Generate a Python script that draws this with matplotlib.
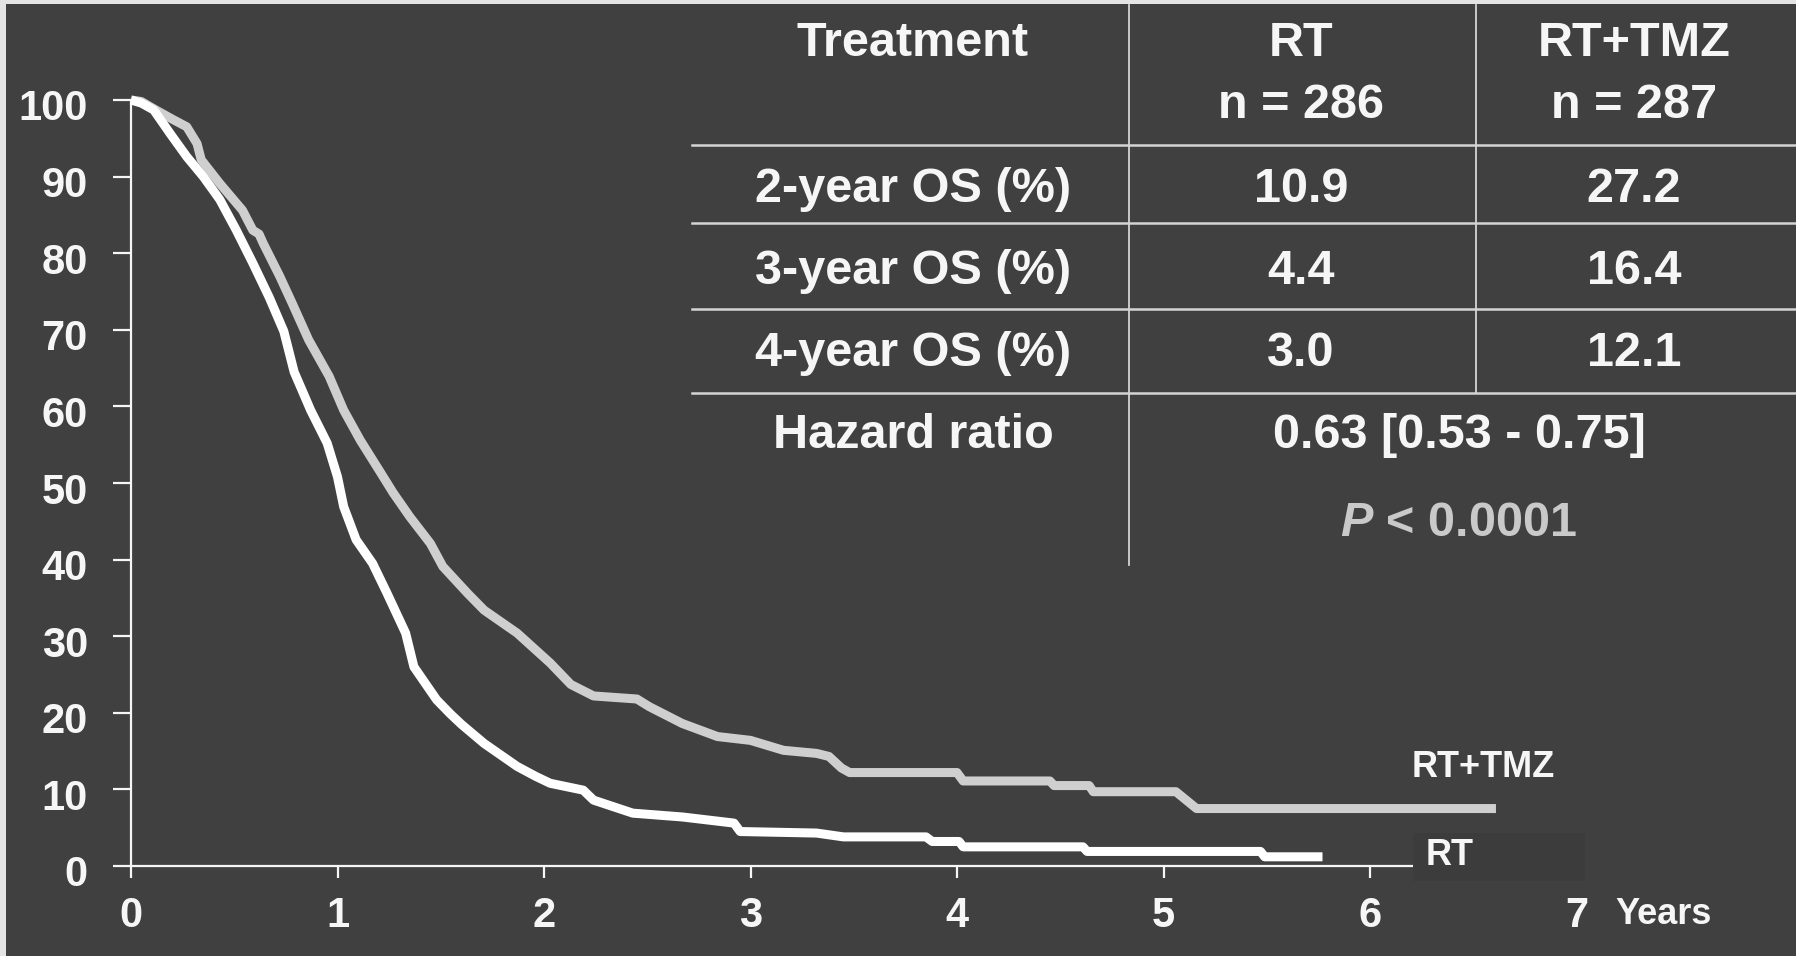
import matplotlib
matplotlib.use("Agg")
import matplotlib.pyplot as plt
from matplotlib.lines import Line2D
from matplotlib.patches import Rectangle
import matplotlib.transforms as mtransforms

# ---------------- data ----------------
tmz_years = [0.00, 0.05, 0.12, 0.20, 0.27, 0.32, 0.34, 0.43, 0.54, 0.59, 0.62, 0.64,
             0.72, 0.78, 0.86, 0.96, 1.03, 1.11, 1.21, 1.27, 1.35, 1.45, 1.51, 1.63,
             1.71, 1.87, 2.03, 2.13, 2.24, 2.45, 2.51, 2.67, 2.84, 3.00, 3.16, 3.32,
             3.38, 3.44, 3.48, 4.00, 4.03, 4.45, 4.47, 4.64, 4.66, 5.06, 5.16, 6.61]
tmz_os = [100.0, 99.8, 98.7, 97.5, 96.5, 94.3, 92.2, 89.1, 85.6, 83.0, 82.5, 81.3,
          77.0, 73.5, 68.7, 63.9, 59.5, 55.6, 51.3, 48.7, 45.6, 42.1, 39.1, 35.6,
          33.4, 30.4, 26.5, 23.7, 22.2, 21.8, 20.8, 18.6, 16.9, 16.4, 15.1, 14.7,
          14.3, 12.8, 12.2, 12.2, 11.1, 11.1, 10.5, 10.5, 9.7, 9.7, 7.5, 7.5]

rt_years = [0.00, 0.05, 0.11, 0.19, 0.27, 0.35, 0.43, 0.51, 0.59, 0.67, 0.74, 0.79,
            0.87, 0.95, 1.00, 1.03, 1.09, 1.17, 1.24, 1.33, 1.37, 1.48, 1.545, 1.60,
            1.71, 1.87, 1.96, 2.03, 2.19, 2.24, 2.43, 2.67, 2.92, 2.95, 3.32, 3.45,
            3.85, 3.88, 4.01, 4.03, 4.61, 4.63, 5.47, 5.49, 5.77]
rt_os = [100.0, 99.6, 98.7, 95.6, 92.6, 90.0, 87.0, 83.0, 78.7, 74.2, 69.8, 64.5,
         59.5, 55.2, 50.8, 46.9, 42.6, 39.5, 35.6, 30.4, 26.0, 21.7, 19.9, 18.5,
         16.0, 13.0, 11.7, 10.8, 9.9, 8.6, 6.9, 6.4, 5.6, 4.5, 4.3, 3.8,
         3.8, 3.2, 3.2, 2.5, 2.5, 1.9, 1.9, 1.2, 1.2]

x_ticks = [0, 1, 2, 3, 4, 5, 6, 7]
y_ticks = [0, 10, 20, 30, 40, 50, 60, 70, 80, 90, 100]
series_labels = ["RT+TMZ", "RT"]
x_unit = "Years"

header_left = "Treatment"
header_rt = ["RT", "n = 286"]
header_tmz = ["RT+TMZ", "n = 287"]
row_labels = ["2-year OS (%)", "3-year OS (%)", "4-year OS (%)"]
rt_values = ["10.9", "4.4", "3.0"]
tmz_values = ["27.2", "16.4", "12.1"]
hr_label = "Hazard ratio"
hr_value = "0.63 [0.53 - 0.75]"
p_value = r"$\mathit{P}$ < 0.0001"

# ---------------- style ----------------
BG = "#404040"
WHITE = "#f6f6f6"
GREY_LINE = "#cfcfcf"
plt.rcParams["font.family"] = ["Liberation Sans", "DejaVu Sans"]
plt.rcParams["font.weight"] = "bold"
plt.rcParams["mathtext.fontset"] = "custom"
plt.rcParams["mathtext.it"] = "Liberation Sans:italic:bold"
plt.rcParams["mathtext.rm"] = "Liberation Sans:bold"

W, H = 1796, 956
fig = plt.figure(figsize=(W / 100, H / 100), dpi=100)
fig.patch.set_facecolor(BG)
# light slide edges (left and top)
fig.patches.append(Rectangle((0, 0), 6 / W, 1, transform=fig.transFigure,
                             facecolor="#e4e4e4", edgecolor="none", zorder=-5))
fig.patches.append(Rectangle((0, 1 - 4 / H), 1, 4 / H, transform=fig.transFigure,
                             facecolor="#e4e4e4", edgecolor="none", zorder=-5))


def fxp(px):
    return px / W


def fyp(py):
    return 1 - py / H


ax = fig.add_axes([fxp(131), fyp(866), 1445.5 / W, 766 / H])
ax.set_facecolor("none")
ax.set_zorder(2)
ax.set_xlim(0, 7)
ax.set_ylim(0, 100)
for s in ["top", "right"]:
    ax.spines[s].set_visible(False)
for s in ["left", "bottom"]:
    ax.spines[s].set_color(WHITE)
    ax.spines[s].set_linewidth(1.6)

ax.set_xticks(x_ticks)
ax.set_yticks(y_ticks)
ax.tick_params(axis="y", length=13, width=1.6, color=WHITE, pad=18,
               labelsize=30, labelcolor=WHITE)
ax.tick_params(axis="x", length=8.5, width=1.6, color=WHITE, pad=13,
               labelsize=30, labelcolor=WHITE)
offset = mtransforms.ScaledTranslation(0, -5 / 100, fig.dpi_scale_trans)
for lab in ax.get_yticklabels():
    lab.set_transform(lab.get_transform() + offset)
    lab.set_fontweight("bold")
for lab in ax.get_xticklabels():
    lab.set_fontweight("bold")

ax.plot(tmz_years, tmz_os, color=GREY_LINE, lw=6.5, solid_joinstyle="round",
        solid_capstyle="butt", clip_on=False, zorder=3)
ax.plot(rt_years, rt_os, color="#ffffff", lw=6.5, solid_joinstyle="round",
        solid_capstyle="butt", clip_on=False, zorder=4)

# curve labels
ax.text(6.2, 12.8, series_labels[0], ha="left", va="center", fontsize=26,
        color=WHITE, fontweight="bold", zorder=6)
ax.add_patch(Rectangle((6.21, -1.9), 0.83, 6.2, facecolor="#3c3c3c", edgecolor="none",
                       clip_on=False, zorder=5))
ax.text(6.27, 1.4, series_labels[1], ha="left", va="center", fontsize=26,
        color=WHITE, fontweight="bold", zorder=6)

fig.text(fxp(1615), fyp(914), x_unit, ha="left", va="center", fontsize=26,
         color=WHITE, fontweight="bold")

# ---------------- table ----------------
LC = "#d4d4d4"
for yy in [145, 223, 309, 393]:
    fig.add_artist(Line2D([fxp(692), 1.0], [fyp(yy), fyp(yy)], color=LC, lw=1.8,
                          transform=fig.transFigure))
fig.add_artist(Line2D([fxp(1129), fxp(1129)], [fyp(5), fyp(565)], color=LC, lw=1.3,
                      transform=fig.transFigure))
fig.add_artist(Line2D([fxp(1476), fxp(1476)], [fyp(5), fyp(393)], color=LC, lw=1.3,
                      transform=fig.transFigure))

TS = 35
cx_lab, cx_rt, cx_tmz, cx_hr = 913, 1301, 1634, 1459


def ttext(x, y, s, color=WHITE):
    fig.text(fxp(x), fyp(y), s, ha="center", va="center", fontsize=TS,
             color=color, fontweight="bold")


ttext(cx_lab, 44, header_left)
ttext(cx_rt, 44, header_rt[0])
ttext(cx_rt, 106, header_rt[1])
ttext(cx_tmz, 44, header_tmz[0])
ttext(cx_tmz, 106, header_tmz[1])
for ry, lab, a, b in zip([189, 271, 353], row_labels, rt_values, tmz_values):
    ttext(cx_lab, ry, lab)
    ttext(cx_rt, ry, a)
    ttext(cx_tmz, ry, b)
ttext(cx_lab, 436, hr_label)
ttext(cx_hr, 436, hr_value)
ttext(cx_hr, 524, p_value, color="#c9c9c9")

fig.savefig("out.png", dpi=100, facecolor=fig.get_facecolor())
